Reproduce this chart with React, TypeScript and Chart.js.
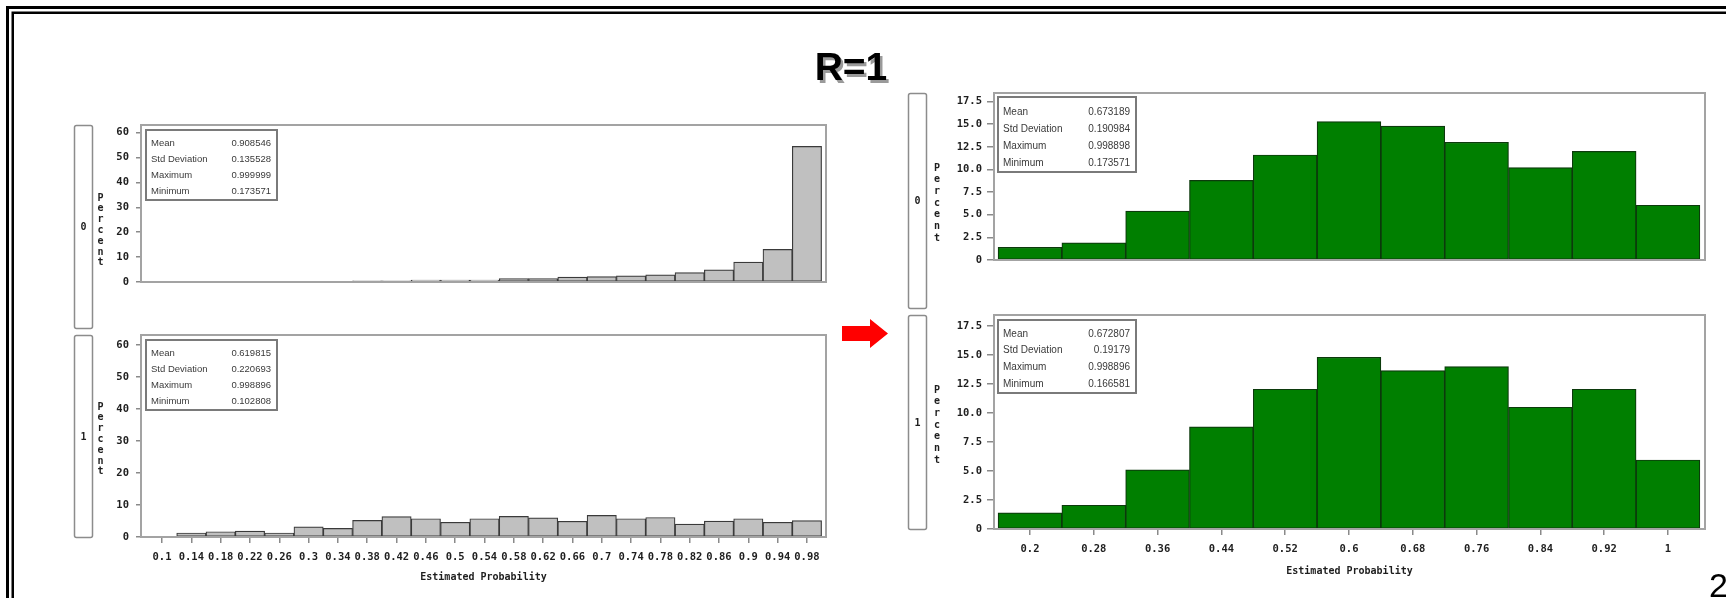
import React, { useEffect, useRef } from "react";
import { Chart, registerables } from "chart.js";
Chart.register(...registerables);

// ---------------- data ----------------
const pageTitle = "R=1";
const pageNumber = "2";
const xAxisTitle = "Estimated Probability";
const yAxisTitle = "Percent";
const groupLabels = ["0", "1"];

const leftBins = [0.1, 0.14, 0.18, 0.22, 0.26, 0.3, 0.34, 0.38, 0.42, 0.46, 0.5, 0.54, 0.58, 0.62, 0.66, 0.7, 0.74, 0.78, 0.82, 0.86, 0.9, 0.94, 0.98];
const leftTickLabels = ["0.1", "0.14", "0.18", "0.22", "0.26", "0.3", "0.34", "0.38", "0.42", "0.46", "0.5", "0.54", "0.58", "0.62", "0.66", "0.7", "0.74", "0.78", "0.82", "0.86", "0.9", "0.94", "0.98"];
const leftTopPercent = [0, 0, 0, 0, 0.2, 0.2, 0.2, 0.5, 0.5, 0.8, 0.8, 0.8, 1.4, 1.4, 2.0, 2.2, 2.5, 2.9, 3.8, 4.9, 8.0, 13.1, 54.5];
const leftBottomPercent = [0.2, 1.25, 1.65, 1.85, 1.25, 3.2, 2.7, 5.2, 6.35, 5.7, 4.6, 5.7, 6.45, 6.0, 4.9, 6.75, 5.7, 6.1, 4.0, 4.95, 5.7, 4.6, 5.1];
const leftYTicks = [0, 10, 20, 30, 40, 50, 60];
const leftYLabels = ["0", "10", "20", "30", "40", "50", "60"];
const leftXRange = [0.0713, 1.006];
const leftYMax = 63.1;

const rightBins = [0.2, 0.28, 0.36, 0.44, 0.52, 0.6, 0.68, 0.76, 0.84, 0.92, 1.0];
const rightTickLabels = ["0.2", "0.28", "0.36", "0.44", "0.52", "0.6", "0.68", "0.76", "0.84", "0.92", "1"];
const rightTopPercent = [1.4, 1.9, 5.4, 8.8, 11.6, 15.3, 14.8, 13.0, 10.2, 12.0, 6.05];
const rightBottomPercent = [1.4, 2.05, 5.1, 8.8, 12.05, 14.8, 13.65, 14.0, 10.5, 12.05, 5.95];
const rightYTicks = [0, 2.5, 5, 7.5, 10, 12.5, 15, 17.5];
const rightYLabels = ["0", "2.5", "5.0", "7.5", "10.0", "12.5", "15.0", "17.5"];
const rightXRange = [0.1549, 1.0464];
const rightYMax = 18.45;

const statLabels = ["Mean", "Std Deviation", "Maximum", "Minimum"];
const leftTopStats = ["0.908546", "0.135528", "0.999999", "0.173571"];
const leftBottomStats = ["0.619815", "0.220693", "0.998896", "0.102808"];
const rightTopStats = ["0.673189", "0.190984", "0.998898", "0.173571"];
const rightBottomStats = ["0.672807", "0.19179", "0.998896", "0.166581"];

// ---------------- styles / layout ----------------
const MONO = '"DejaVu Sans Mono", monospace';
const SANS = '"Liberation Sans", Arial, sans-serif';
const MONO_SIZE = 10.5;
const Y_W = 44;
const PAD_TOP = 16;
const PAD_RIGHT = 6;

const panelFrame = {
  id: "panelFrame",
  afterDatasetsDraw(chart: any, _args: any, opts: any) {
    const { ctx, chartArea: a } = chart;
    ctx.save();
    ctx.strokeStyle = "#a3a3a3";
    ctx.lineWidth = 2;
    ctx.strokeRect(a.left, a.top, a.right - a.left, a.bottom - a.top);
    const b = opts.box;
    const bx = a.left + b.dx;
    const by = a.top + b.dy;
    ctx.fillStyle = "#fff";
    ctx.fillRect(bx, by, b.w, b.h);
    ctx.strokeStyle = "#7a7a7a";
    ctx.lineWidth = 2;
    ctx.strokeRect(bx, by, b.w, b.h);
    ctx.font = `${b.fs}px ${SANS}`;
    ctx.fillStyle = "#3a3a3a";
    ctx.textBaseline = "middle";
    (opts.labels as string[]).forEach((l, i) => {
      const y = by + b.row0 + i * b.step;
      ctx.textAlign = "left";
      ctx.fillText(l, bx + 5, y);
      ctx.textAlign = "right";
      ctx.fillText(opts.values[i], bx + b.w - 6, y);
    });
    ctx.restore();
  },
};

type PanelSpec = {
  area: { left: number; top: number; right: number; bottom: number };
  showX: boolean;
  xH: number;
  bins: number[];
  tickLabels: string[];
  values: number[];
  xRange: number[];
  yMax: number;
  yTicks: number[];
  yLabels: string[];
  yTickLen: number;
  yPad: number;
  xTickLen: number;
  fill: string;
  border: string;
  stats: string[];
  box: { dx: number; dy: number; w: number; h: number; row0: number; step: number; fs: number };
};

function Panel({ spec }: { spec: PanelSpec }) {
  const ref = useRef<HTMLCanvasElement>(null);
  const a = spec.area;
  const padBottom = spec.showX ? 4 : 16;
  const left = a.left - Y_W;
  const top = a.top - PAD_TOP;
  const width = a.right + PAD_RIGHT - left;
  const height = a.bottom + (spec.showX ? spec.xH : 0) + padBottom - top;

  useEffect(() => {
    const tickFont = { family: MONO, weight: "bold" as const, size: MONO_SIZE };
    const chart = new Chart(ref.current as HTMLCanvasElement, {
      type: "bar",
      data: {
        datasets: [
          {
            data: spec.bins.map((x, i) => ({ x, y: spec.values[i] })),
            backgroundColor: spec.fill,
            borderColor: spec.border,
            borderWidth: 1.2,
            borderSkipped: false,
            barPercentage: 1,
            categoryPercentage: 1,
          },
        ],
      },
      options: {
        animation: false,
        responsive: false,
        devicePixelRatio: 1,
        layout: { padding: { left: 0, top: PAD_TOP, right: PAD_RIGHT, bottom: padBottom } },
        plugins: {
          legend: { display: false },
          tooltip: { enabled: false },
          panelFrame: { box: spec.box, labels: statLabels, values: spec.stats },
        } as any,
        scales: {
          x: {
            type: "linear",
            display: spec.showX,
            min: spec.xRange[0],
            max: spec.xRange[1],
            offset: false,
            afterBuildTicks: (s: any) => {
              s.ticks = spec.bins.map((v) => ({ value: v }));
            },
            afterFit: (s: any) => {
              s.height = spec.xH;
            },
            grid: { display: true, drawOnChartArea: false, drawTicks: true, tickLength: spec.xTickLen, color: "#8a8a8a", lineWidth: 1.5, offset: false },
            border: { display: false },
            ticks: {
              autoSkip: false,
              maxRotation: 0,
              minRotation: 0,
              padding: 8,
              color: "#1e1e1e",
              font: tickFont,
              callback: (_v: any, i: number) => spec.tickLabels[i],
            },
            title: { display: true, text: xAxisTitle, color: "#1e1e1e", font: { family: MONO, weight: "bold", size: 10 }, padding: { top: 0, bottom: 0 } },
          } as any,
          y: {
            type: "linear",
            min: 0,
            max: spec.yMax,
            afterBuildTicks: (s: any) => {
              s.ticks = spec.yTicks.map((v) => ({ value: v }));
            },
            afterFit: (s: any) => {
              s.width = Y_W;
            },
            grid: { display: true, drawOnChartArea: false, drawTicks: true, tickLength: spec.yTickLen, color: "#8a8a8a", lineWidth: 1.5 },
            border: { display: false },
            ticks: {
              padding: spec.yPad,
              color: "#1e1e1e",
              font: tickFont,
              callback: (_v: any, i: number) => spec.yLabels[i],
            },
          } as any,
        },
      },
      plugins: [panelFrame],
    });
    return () => chart.destroy();
  }, []);

  return (
    <canvas
      ref={ref}
      width={width}
      height={height}
      style={{ position: "absolute", left, top, width, height }}
    />
  );
}

const leftBox = { dx: 5, dy: 5, w: 131, h: 70, row0: 13, step: 16, fs: 9.5 };
const panels: PanelSpec[] = [
  {
    area: { left: 141, top: 125, right: 826, bottom: 328 },
    showX: false, xH: 46,
    bins: leftBins, tickLabels: leftTickLabels, values: leftTopPercent,
    xRange: leftXRange, yMax: leftYMax, yTicks: leftYTicks, yLabels: leftYLabels,
    yTickLen: 5, yPad: 7, xTickLen: 6,
    fill: "#c0c0c0", border: "#3a3a3a", stats: leftTopStats, box: leftBox,
  },
  {
    area: { left: 141, top: 335, right: 826, bottom: 537 },
    showX: true, xH: 46,
    bins: leftBins, tickLabels: leftTickLabels, values: leftBottomPercent,
    xRange: leftXRange, yMax: leftYMax, yTicks: leftYTicks, yLabels: leftYLabels,
    yTickLen: 5, yPad: 7, xTickLen: 6,
    fill: "#c0c0c0", border: "#3a3a3a", stats: leftBottomStats, box: leftBox,
  },
  {
    area: { left: 994, top: 93, right: 1705, bottom: 308 },
    showX: false, xH: 48,
    bins: rightBins, tickLabels: rightTickLabels, values: rightTopPercent,
    xRange: rightXRange, yMax: rightYMax, yTicks: rightYTicks, yLabels: rightYLabels,
    yTickLen: 7, yPad: 5, xTickLen: 6,
    fill: "#007f00", border: "#0c3a0c", stats: rightTopStats,
    box: { dx: 4, dy: 4, w: 138, h: 75, row0: 15, step: 17, fs: 10 },
  },
  {
    area: { left: 994, top: 315, right: 1705, bottom: 529 },
    showX: true, xH: 48,
    bins: rightBins, tickLabels: rightTickLabels, values: rightBottomPercent,
    xRange: rightXRange, yMax: rightYMax, yTicks: rightYTicks, yLabels: rightYLabels,
    yTickLen: 7, yPad: 5, xTickLen: 6,
    fill: "#007f00", border: "#0c3a0c", stats: rightBottomStats,
    box: { dx: 4, dy: 5, w: 138, h: 73, row0: 14, step: 16.7, fs: 10 },
  },
];

// strip label boxes and stacked "Percent" placement
const strips = [
  { x: 74, y: 125, w: 18, h: 203, label: groupLabels[0], px: 100.5, py: 197, step: 10.8 },
  { x: 74, y: 335, w: 18, h: 202, label: groupLabels[1], px: 100.5, py: 406, step: 10.8 },
  { x: 908, y: 93, w: 18, h: 215, label: groupLabels[0], px: 937, py: 167, step: 11.7 },
  { x: 908, y: 315, w: 18, h: 214, label: groupLabels[1], px: 937, py: 389, step: 11.7 },
];

function Overlay() {
  return (
    <svg
      width={1726}
      height={598}
      style={{ position: "absolute", left: 0, top: 0, pointerEvents: "none" }}
    >
      {/* slide frame */}
      <polyline points="7.5,598 7.5,7.5 1726,7.5" fill="none" stroke="#000" strokeWidth={3} />
      <polyline points="12.75,598 12.75,12.75 1726,12.75" fill="none" stroke="#000" strokeWidth={2.5} />
      {/* title with shadow */}
      <text x={853.5} y={82.5} fontFamily={SANS} fontWeight="bold" fontSize={39} fill="#9a9a9a" textAnchor="middle">{pageTitle}</text>
      <text x={851} y={80} fontFamily={SANS} fontWeight="bold" fontSize={39} fill="#000" textAnchor="middle">{pageTitle}</text>
      {/* red arrow */}
      <polygon points="842,326 870,326 870,319 888,333.5 870,348 870,341 842,341" fill="#ff0000" />
      {/* page number */}
      <text x={1709} y={597} fontFamily={SANS} fontSize={34} fill="#000">{pageNumber}</text>
      {strips.map((s, k) => (
        <g key={k}>
          <rect x={s.x + 0.5} y={s.y + 0.5} width={s.w} height={s.h} rx={2} fill="#fff" stroke="#8c8c8c" strokeWidth={1.5} />
          <text x={s.x + s.w / 2 + 0.5} y={s.y + s.h / 2} fontFamily={MONO} fontWeight="bold" fontSize={10} fill="#1e1e1e" textAnchor="middle" dominantBaseline="central">{s.label}</text>
          {yAxisTitle.split("").map((ch, i) => (
            <text key={i} x={s.px} y={s.py + i * s.step} fontFamily={MONO} fontWeight="bold" fontSize={10} fill="#1e1e1e" textAnchor="middle" dominantBaseline="central">{ch}</text>
          ))}
        </g>
      ))}
    </svg>
  );
}

export default function App() {
  return (
    <div
      style={{
        position: "absolute",
        left: 0,
        top: 0,
        width: 1726,
        height: 598,
        overflow: "hidden",
        background: "#fff",
      }}
    >
      {panels.map((p, i) => (
        <Panel key={i} spec={p} />
      ))}
      <Overlay />
    </div>
  );
}
